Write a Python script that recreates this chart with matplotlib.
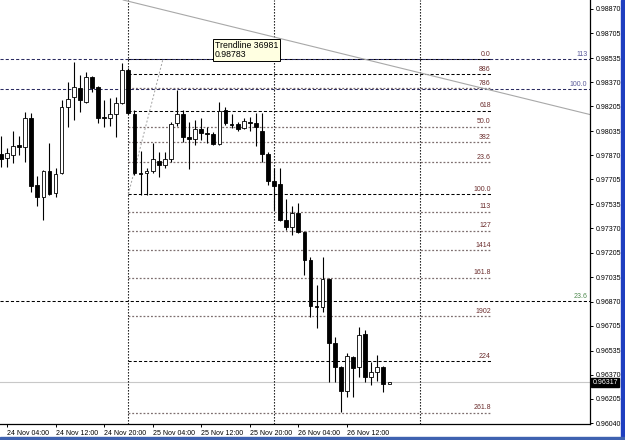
import matplotlib
matplotlib.use("Agg")
import matplotlib.pyplot as plt
from matplotlib.patches import Rectangle

plt.rcParams['font.family'] = ['Liberation Sans', 'DejaVu Sans']

# H1 candles, hour 0 = 24 Nov 04:00
hours = list(range(-1, 64))
opens = [0.97879, 0.97851, 0.97872, 0.97940, 0.97927, 0.98125, 0.97667, 0.97585, 0.97763, 0.97612,
         0.97749, 0.98200, 0.98268, 0.98330, 0.98234, 0.98405, 0.98337, 0.98132, 0.98125, 0.98152,
         0.98227, 0.98453, 0.98152, 0.97749, 0.97749, 0.97763, 0.97831, 0.97804, 0.97845, 0.98091,
         0.98152, 0.97995, 0.97981, 0.98050, 0.98022, 0.98016, 0.97947, 0.98180, 0.98084, 0.98084,
         0.98057, 0.98098, 0.98091, 0.98036, 0.97879, 0.97694, 0.97674, 0.97428, 0.97380, 0.97476,
         0.97346, 0.97154, 0.96840, 0.96833, 0.97024, 0.96587, 0.96423, 0.96259, 0.96491, 0.96423,
         0.96648, 0.96354, 0.96389, 0.96423, 0.96307]
highs = [0.98002, 0.97920, 0.98036, 0.98002, 0.98166, 0.98159, 0.97728, 0.97769, 0.97954, 0.97783,
         0.98248, 0.98371, 0.98508, 0.98419, 0.98439, 0.98412, 0.98344, 0.98248, 0.98262, 0.98268,
         0.98501, 0.98467, 0.98180, 0.97899, 0.97783, 0.97954, 0.97892, 0.97892, 0.98098, 0.98316,
         0.98180, 0.98098, 0.98111, 0.98125, 0.98063, 0.98029, 0.98234, 0.98200, 0.98152, 0.98098,
         0.98125, 0.98132, 0.98159, 0.98159, 0.97892, 0.97783, 0.97783, 0.97571, 0.97523, 0.97544,
         0.97352, 0.97175, 0.96983, 0.97175, 0.97031, 0.96628, 0.96430, 0.96519, 0.96498, 0.96696,
         0.96676, 0.96457, 0.96505, 0.96430, 0.96320]
lows = [0.97790, 0.97790, 0.97817, 0.97872, 0.97824, 0.97619, 0.97523, 0.97428, 0.97599, 0.97585,
        0.97742, 0.98063, 0.98111, 0.98166, 0.98227, 0.98303, 0.98091, 0.98063, 0.98070, 0.97995,
        0.98221, 0.98152, 0.97735, 0.97599, 0.97599, 0.97749, 0.97722, 0.97783, 0.97824, 0.98070,
        0.97961, 0.97776, 0.97940, 0.97975, 0.97954, 0.97940, 0.97940, 0.98077, 0.98057, 0.98036,
        0.98050, 0.98036, 0.97934, 0.97824, 0.97667, 0.97496, 0.97421, 0.97359, 0.97325, 0.97339,
        0.97052, 0.96765, 0.96689, 0.96799, 0.96320, 0.96320, 0.96115, 0.96218, 0.96218, 0.96354,
        0.96320, 0.96300, 0.96327, 0.96252, 0.96307]
closes = [0.97845, 0.97886, 0.97934, 0.97927, 0.98125, 0.97660, 0.97585, 0.97763, 0.97605, 0.97742,
          0.98200, 0.98255, 0.98337, 0.98248, 0.98405, 0.98330, 0.98125, 0.98125, 0.98152, 0.98227,
          0.98453, 0.98159, 0.97749, 0.97742, 0.97763, 0.97845, 0.97804, 0.97845, 0.98084, 0.98152,
          0.97995, 0.97981, 0.98050, 0.98022, 0.98016, 0.97947, 0.98173, 0.98091, 0.98077, 0.98050,
          0.98104, 0.98091, 0.98063, 0.97879, 0.97694, 0.97660, 0.97428, 0.97380, 0.97476, 0.97346,
          0.97154, 0.96840, 0.96833, 0.97024, 0.96587, 0.96423, 0.96259, 0.96498, 0.96416, 0.96642,
          0.96354, 0.96389, 0.96423, 0.96307, 0.96317]

# fibonacci object (anchors and levels)
fib_time = [20, 25.7]
fib_low = 0.97605
fib_high = 0.98528
fib_end = 79.7
fib_labels = ["0.0", "886", "786", "618", "50.0", "382", "23.6", "100.0",
              "113", "127", "1414", "161.8", "1902", "224", "261.8"]
fib_ratios = [1.0, 0.886, 0.786, 0.618, 0.5, 0.382, 0.236, 0.0,
              -0.13, -0.27, -0.414, -0.618, -0.902, -1.24, -1.618]
fib_dark = ["0.0", "886", "618", "100.0", "224"]

# full width levels
hl_labels = ["113", "100.0", "23.6"]
hl_prices = [0.98528, 0.98323, 0.96874]
hl_colors = ["#5a5a9a", "#5a5a9a", "#4f8a4f"]

trend_pts = [(19.1, 0.98932), (96.0, 0.98149)]
separators = [20, 44, 68]
bid = 0.96317

xtick_hours = [0, 8, 16, 24, 32, 40, 48, 56]
xtick_labels = ["24 Nov 04:00", "24 Nov 12:00", "24 Nov 20:00", "25 Nov 04:00",
                "25 Nov 12:00", "25 Nov 20:00", "26 Nov 04:00", "26 Nov 12:00"]
ytick_vals = [0.98870, 0.98705, 0.98535, 0.98370, 0.98205, 0.98035, 0.97870, 0.97705, 0.97535,
              0.97370, 0.97205, 0.97035, 0.96870, 0.96705, 0.96535, 0.96370, 0.96205, 0.96040]

fig = plt.figure(figsize=(6.25, 4.4), dpi=100)
ax = fig.add_axes([0, 16 / 440, 590 / 625, 424 / 440])
ax.set_xlim(-1.15, 96.05)
ax.set_ylim(0.960332, 0.989315)

# bid line
ax.axhline(bid, color="#c8c8c8", lw=0.8, zorder=1)

# separators
for s in separators:
    ax.axvline(s, color="black", lw=0.8, ls=(0, (1.2, 1.5)), zorder=2)

# fib levels
rng = fib_high - fib_low
for lab, r in zip(fib_labels, fib_ratios):
    p = fib_low + r * rng
    if lab in fib_dark:
        ax.plot([fib_time[0], fib_end], [p, p], color="black", lw=0.75, ls=(0, (3, 2)), zorder=2)
    else:
        ax.plot([fib_time[0], fib_end], [p, p], color="#7d6e6e", lw=0.9, ls=(0, (1.5, 1.5)), zorder=2)
    ax.annotate(lab, (fib_end, p), xytext=(0, 0.8), textcoords="offset points",
                ha="right", va="bottom", fontsize=5, color="#6b2d2d")
ax.plot(fib_time, [fib_low, fib_high], color="#a0a0a0", lw=0.7, ls=(0, (2, 2)), zorder=2)

# full width lines
for lab, p, c in zip(hl_labels, hl_prices, hl_colors):
    lc = "#2a2a60" if c != "#4f8a4f" else "black"
    ax.axhline(p, color=lc, lw=0.75, ls=(0, (3, 2)), zorder=2)
    ax.annotate(lab, (1.0, p), xycoords=ax.get_yaxis_transform(), xytext=(-2, 0.8),
                textcoords="offset points", ha="right", va="bottom", fontsize=5, color=c)

# trendline
ax.axline(trend_pts[0], trend_pts[1], color="#a8a8a8", lw=0.8, zorder=2)

# candles
w = 0.62
ax.vlines(hours, lows, highs, color="black", lw=0.8, zorder=3)
for h, o, c in zip(hours, opens, closes):
    up = c >= o
    ax.bar(h, abs(c - o), width=w, bottom=min(o, c), color="white" if up else "black",
           edgecolor="black", lw=0.6, zorder=4)

# axes styling
for side in ["left", "top"]:
    ax.spines[side].set_visible(False)
for side in ["right", "bottom"]:
    ax.spines[side].set_linewidth(0.9)
ax.yaxis.tick_right()
ax.set_yticks(ytick_vals)
ax.set_yticklabels(["%.5f" % v for v in ytick_vals])
ax.set_xticks(xtick_hours)
ax.set_xticklabels(xtick_labels)
for t in ax.get_xticklabels():
    t.set_ha("left")
ax.tick_params(axis="both", length=2.5, width=0.7, labelsize=5, pad=1.5, direction="out")

ax.text(1.004, bid, "%.5f" % bid, transform=ax.get_yaxis_transform(), color="white",
        fontsize=5, va="center", ha="left", clip_on=False, zorder=10,
        bbox=dict(boxstyle="square,pad=0.2", facecolor="black", edgecolor="black"))

# tooltip
fig.text(215 / 625, 1 - 41 / 440, "Trendline 36981\n0.98783", ha="left", va="top",
         fontsize=6.3, linespacing=1.05,
         bbox=dict(boxstyle="square,pad=0.2", facecolor="#ffffe1", edgecolor="black", lw=0.7))

# window borders
fig.add_artist(Rectangle((621 / 625, 0), 4 / 625, 1, transform=fig.transFigure,
                         color="#1f3fc0", zorder=20))
fig.add_artist(Rectangle((0, 0), 1, 3 / 440, transform=fig.transFigure,
                         color="#3f62b0", zorder=20))

fig.savefig("out.png", dpi=100)
